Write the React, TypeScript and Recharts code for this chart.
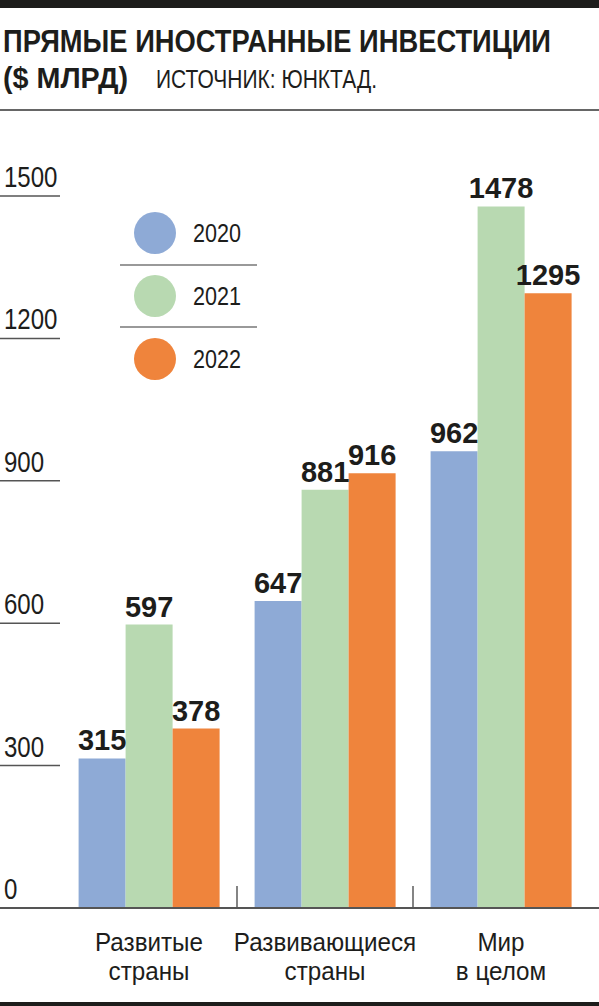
import React from 'react';
import { BarChart, Bar, XAxis, YAxis, LabelList } from 'recharts';

const categories = ['Развитые страны', 'Развивающиеся страны', 'Мир в целом'];
const categoryLines = [
  ['Развитые', 'страны'],
  ['Развивающиеся', 'страны'],
  ['Мир', 'в целом'],
];
const years = ['2020', '2021', '2022'];
const values2020 = [315, 647, 962];
const values2021 = [597, 881, 1478];
const values2022 = [378, 916, 1295];
const yTicks = [0, 300, 600, 900, 1200, 1500];
const colors = ['#8EAAD6', '#B8D9B1', '#EF843C'];

const data = categories.map((c, i) => ({
  category: c,
  y2020: values2020[i],
  y2021: values2021[i],
  y2022: values2022[i],
}));

const W = 599;
const H = 1006;
const INK = '#1d1d1b';
const SANS = "'Liberation Sans', Arial, 'Roboto', sans-serif";

// condensed look: Liberation Sans squeezed horizontally
const Narrow = (props: any) => {
  const { x, y, size, sx = 0.86, anchor = 'start', weight = 400, fit, children } = props;
  return (
    <text
      transform={`translate(${x},${y}) scale(${sx},1)`}
      x={0}
      y={0}
      fontFamily={SANS}
      fontSize={size}
      fontWeight={weight}
      fill={INK}
      textAnchor={anchor}
      textLength={fit ? fit / sx : undefined}
      lengthAdjust={fit ? 'spacingAndGlyphs' : undefined}
    >
      {children}
    </text>
  );
};

const YTick = (props: any) => {
  const { y, payload } = props;
  const isZero = payload.value === 0;
  return (
    <g>
      {isZero ? (
        <line x1={0} x2={W} y1={y} y2={y} stroke="#555" strokeWidth={2} />
      ) : (
        <line x1={0} x2={60} y1={y} y2={y} stroke="#555" strokeWidth={1.5} />
      )}
      <Narrow x={4} y={y - 9} size={29} sx={0.83}>
        {payload.value}
      </Narrow>
    </g>
  );
};

const XTick = (props: any) => {
  const { x, payload, index } = props;
  const lines = categoryLines[index] || [payload.value];
  const half = payload.offset || 88;
  return (
    <g>
      {index > 0 && (
        <line x1={x - half} x2={x - half} y1={886} y2={907} stroke="#333" strokeWidth={1.2} />
      )}
      {lines.map((l: string, i: number) => (
        <Narrow key={i} x={x} y={951 + i * 29} size={25.5} sx={0.95} anchor="middle">
          {l}
        </Narrow>
      ))}
    </g>
  );
};

const keys = ['y2020', 'y2021', 'y2022'];

export default function App() {
  return (
    <div style={{ position: 'relative', width: W, height: H, background: '#fff' }}>
      <style>{`body{margin:0;}`}</style>
      <BarChart
        width={W}
        height={H}
        data={data}
        margin={{ top: 196, right: 10, bottom: 28, left: 0 }}
        barCategoryGap="10%"
        barGap={0}
      >
        <XAxis
          dataKey="category"
          axisLine={false}
          tickLine={false}
          height={70}
          tick={<XTick />}
          interval={0}
        />
        <YAxis
          domain={[0, 1500]}
          ticks={yTicks}
          width={61}
          axisLine={false}
          tickLine={false}
          tick={<YTick />}
          interval={0}
        />
        {keys.map((k, i) => (
          <Bar key={k} dataKey={k} fill={colors[i]} isAnimationActive={false}>
            <LabelList
              dataKey={k}
              position="top"
              offset={8}
              fill={INK}
              fontFamily={SANS}
              fontWeight={700}
              fontSize={29}
            />
          </Bar>
        ))}
      </BarChart>
      <svg
        width={W}
        height={H}
        style={{ position: 'absolute', left: 0, top: 0, pointerEvents: 'none' }}
      >
        <rect x={0} y={0} width={W} height={8} fill={INK} />
        <Narrow x={3} y={52} size={32} weight={700} sx={0.85} fit={548}>
          ПРЯМЫЕ ИНОСТРАННЫЕ ИНВЕСТИЦИИ
        </Narrow>
        <Narrow x={3} y={88} size={30} weight={700} sx={0.87} fit={125}>
          ($ МЛРД)
        </Narrow>
        <Narrow x={156} y={88} size={25} sx={0.83} fit={221}>
          ИСТОЧНИК: ЮНКТАД.
        </Narrow>
        <line x1={0} x2={W} y1={110} y2={110} stroke="#666" strokeWidth={2} />
        {years.map((yr, i) => (
          <g key={yr}>
            <circle cx={155} cy={233 + i * 63} r={21} fill={colors[i]} />
            <Narrow x={193} y={242 + i * 63} size={26} sx={0.83}>
              {yr}
            </Narrow>
            {i < years.length - 1 && (
              <line
                x1={120}
                x2={257}
                y1={265 + i * 62}
                y2={265 + i * 62}
                stroke="#777"
                strokeWidth={1.5}
              />
            )}
          </g>
        ))}
        <rect x={0} y={1002} width={W} height={4} fill={INK} />
      </svg>
    </div>
  );
}
